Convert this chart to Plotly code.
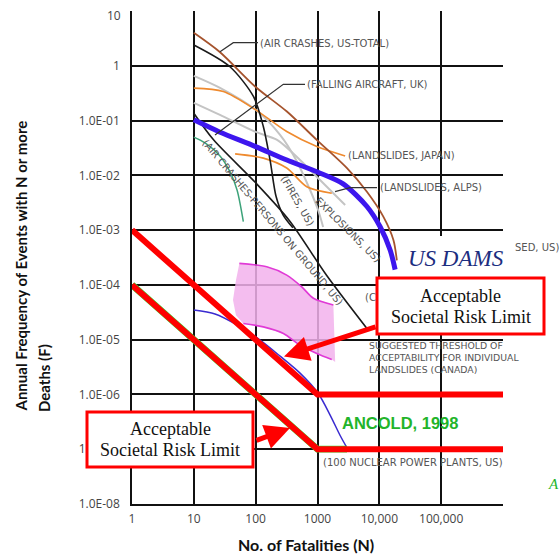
import plotly.graph_objects as go

# ---------------- data (N = fatalities, F = annual frequency) ----------------
air_total_N = [10, 26, 100, 320, 980, 3000, 6300, 11600, 16900, 19200]
air_total_F = [4.0, 1.8, 0.41, 0.146, 0.044, 0.0135, 0.005, 0.00176, 0.00066, 0.00028]

fires_N = [10, 38, 92, 133, 171, 214, 277, 400]
fires_F = [2.4, 0.97, 0.275, 0.078, 0.019, 0.0041, 0.0019, 0.0011]

ground_N = [10, 21, 100, 350, 1400, 6300]
ground_F = [0.136, 0.044, 0.0073, 0.0015, 0.00015, 1.6e-5]

dams_N = [10, 26, 100, 320, 1000, 2600, 6300, 10300, 15000, 18000]
dams_F = [0.103, 0.062, 0.0335, 0.019, 0.0115, 0.007, 0.0027, 0.00115, 0.00043, 0.00019]

japan_N = [10, 30, 100, 318, 975, 2800]
japan_F = [0.391, 0.339, 0.157, 0.063, 0.0335, 0.0226]

alps_N = [46.5, 133, 318, 671, 1700]
alps_F = [0.0246, 0.0206, 0.0136, 0.0062, 0.0047]

gray1_N = [10, 26.5, 100, 248, 451, 759, 1023, 1233]
gray1_F = [0.656, 0.396, 0.157, 0.0548, 0.0191, 0.0054, 0.00233, 0.00114]

gray2_N = [10, 26.5, 100, 222, 522, 1100, 2800]
gray2_F = [0.211, 0.127, 0.062, 0.0444, 0.0191, 0.0082, 0.00288]

teal_N = [10, 15.2, 26.5, 38.5, 50, 63.2]
teal_F = [0.0498, 0.039, 0.0226, 0.01153, 0.0054, 0.00143]

canada_N = [10, 22, 50, 118, 248, 522, 1023, 1600, 2323, 3013]
canada_F = [3.47e-5, 2.95e-5, 1.86e-5, 9.8e-6, 5.0e-6, 2.45e-6, 1.05e-6, 4.2e-7, 1.78e-7, 1.05e-7]

mag_up_N = [54.5, 151, 318, 557, 859, 1807]
mag_up_F = [2.47e-4, 2.14e-4, 1.51e-4, 9.2e-5, 5.7e-5, 4.3e-5]
mag_lo_N = [63.2, 133, 281, 522, 975, 1700]
mag_lo_F = [1.98e-5, 1.71e-5, 1.30e-5, 7.9e-6, 5.6e-6, 4.35e-6]

pink_N = [54.5, 151, 318, 557, 859, 1807, 1930, 1700, 975, 522, 281, 133, 63, 48, 43, 48, 54.5]
pink_F = [2.47e-4, 2.14e-4, 1.51e-4, 9.2e-5, 5.7e-5, 4.3e-5, 3.9e-6, 4.35e-6, 5.6e-6,
          7.9e-6, 1.3e-5, 1.71e-5, 1.98e-5, 2.8e-5, 5.3e-5, 1.22e-4, 2.47e-4]

ancold_N = [1, 1000, 3000]
ancold_F = [1e-4, 1e-7, 1e-7]

limit_hi_N = [1, 1000, 1.12e6]
limit_hi_F = [1e-3, 1e-6, 1e-6]
limit_lo_N = [1, 1000, 1.12e6]
limit_lo_F = [1e-4, 1e-7, 1e-7]

x_tickvals = [1, 10, 100, 1000, 10000, 100000, 1000000]
x_ticktext = ["1", "10", "100", "1000", "10,000", "100,000", ""]
y_tickvals = [1e-8, 1e-7, 1e-6, 1e-5, 1e-4, 1e-3, 1e-2, 1e-1, 1]
y_ticktext = ["1.0E-08", "1.0E-07", "1.0E-06", "1.0E-05", "1.0E-04", "1.0E-03",
              "1.0E-02", "1.0E-01", "1"]

# ---------------- layout geometry ----------------
W, H = 560, 554
ML, MR, MT, MB = 132, 57, 11, 50
PL, PR, PT, PB = ML, W - MR, MT, H - MB


def px(x):
    return (x - PL) / (PR - PL)


def py(y):
    return (PB - y) / (PB - PT)


fig = go.Figure()


def line(xs, ys, color, width, shape="spline", **kw):
    fig.add_trace(go.Scatter(x=xs, y=ys, mode="lines",
                             line=dict(color=color, width=width, shape=shape, smoothing=0.8),
                             hoverinfo="skip", showlegend=False, **kw))


# pink zone
fig.add_trace(go.Scatter(x=pink_N, y=pink_F, mode="lines", fill="toself",
                         fillcolor="rgba(242,178,236,0.85)",
                         line=dict(width=0),
                         hoverinfo="skip", showlegend=False))
line(mag_up_N, mag_up_F, "#e03ad6", 1.6)
line(mag_lo_N, mag_lo_F, "#e03ad6", 1.6)

line(gray1_N, gray1_F, "#c4c4c4", 2)
line(gray2_N, gray2_F, "#c4c4c4", 2)
line(teal_N, teal_F, "#3da37a", 1.5)
line(japan_N, japan_F, "#ef8a2e", 1.6)
line(alps_N, alps_F, "#ef8a2e", 1.6)
line(air_total_N, air_total_F, "#a5532d", 1.8)
line(fires_N, fires_F, "#1a1a1a", 1.6)
line(ground_N, ground_F, "#1a1a1a", 1.6)
line(dams_N, dams_F, "#3d16ee", 5)
line(canada_N, canada_F, "#3a2bd0", 1.5)

# ANCOLD & limit lines
line(ancold_N, ancold_F, "#33dd33", 6.8, shape="linear", cliponaxis=False)
line(limit_hi_N, limit_hi_F, "#ff0000", 6, shape="linear", cliponaxis=False)
line(limit_lo_N, limit_lo_F, "#ff0000", 6, shape="linear", cliponaxis=False)

shapes = []
# leader lines
for pts in [[(220, 51.7), (233.3, 42.7), (258, 42.7)],
            [(215, 135), (283.3, 84.3), (305, 84.3)],
            [(335, 191.7), (350, 187.7), (377, 187.7)]]:
    path = "M " + " L ".join(f"{px(a):.4f},{py(b):.4f}" for a, b in pts)
    shapes.append(dict(type="path", path=path, xref="paper", yref="paper",
                       line=dict(color="#333333", width=1.2), layer="above"))
# white patch behind US DAMS
shapes.append(dict(type="rect", xref="paper", yref="paper", x0=px(398), x1=px(512),
                   y0=py(277), y1=py(236), fillcolor="white", line=dict(width=0), layer="above"))
# boxes
shapes.append(dict(type="rect", xref="paper", yref="paper", x0=px(377), x1=px(544),
                   y0=py(334), y1=py(278), fillcolor="white",
                   line=dict(color="#ff0000", width=3), layer="above"))
shapes.append(dict(type="rect", xref="paper", yref="paper", x0=px(87), x1=px(253),
                   y0=py(467), y1=py(412), fillcolor="white",
                   line=dict(color="#ff0000", width=3), layer="above"))

ann = []
LBL = dict(family="DejaVu Sans", size=10, color="#555555")


def label(text, x, y, font=LBL, xanchor="left", yanchor="middle", angle=0, **kw):
    ann.append(dict(text=text, x=px(x), y=py(y), xref="paper", yref="paper",
                    xanchor=xanchor, yanchor=yanchor, showarrow=False, font=font,
                    textangle=angle, **kw))


label("(AIR CRASHES, US-TOTAL)", 258, 43)
label("(FALLING AIRCRAFT, UK)", 305, 84.5)
label("(LANDSLIDES, JAPAN)", 346, 156)
label("(LANDSLIDES, ALPS)", 378, 187)
label("SED, US)", 513, 247)
label("(C", 363, 297)
label("SUGGESTED THRESHOLD OF<br>ACCEPTABILITY FOR INDIVIDUAL<br>LANDSLIDES (CANADA)",
      367, 338, yanchor="top", align="left",
      font=dict(family="DejaVu Sans", size=9.3, color="#555555"))
label("(100 NUCLEAR POWER PLANTS, US)", 321, 462)
label("(AIR CRASHES-PERSONS ON GROUND, US)", 273, 222, xanchor="center", angle=50)
label("(FIRES, US)", 297, 201, xanchor="center", angle=60)
label("EXPLOSIONS, US)", 348, 229, xanchor="center", angle=45)
label("ANCOLD, 1998", 340, 423,
      font=dict(family="Liberation Sans, Arial", size=16.5, color="#22b42a", weight="bold"))
label("US DAMS", 456, 258, xanchor="center",
      font=dict(family="Liberation Serif, Times New Roman", size=23, color="#1c2d80",
                style="italic"))
label("A", 561, 484, xanchor="right",
      font=dict(family="Liberation Serif", size=15, color="#22b42a", style="italic"))

BOX = dict(family="Liberation Serif, Times New Roman", size=18, color="#111111")
label("Acceptable", 460.5, 296, font=BOX, xanchor="center")
label("Societal Risk Limit", 460.5, 317, font=BOX, xanchor="center")
label("Acceptable", 170, 429, font=BOX, xanchor="center")
label("Societal Risk Limit", 170, 450, font=BOX, xanchor="center")

# arrows
ann.append(dict(x=px(284), y=py(356.5), xref="paper", yref="paper", ax=93, ay=-30,
                text="", showarrow=True, arrowcolor="#ff0000", arrowwidth=5,
                arrowhead=2, arrowsize=1, standoff=0))
ann.append(dict(x=px(290), y=py(428), xref="paper", yref="paper", ax=-35, ay=13,
                text="", showarrow=True, arrowcolor="#ff0000", arrowwidth=5,
                arrowhead=2, arrowsize=1, standoff=0))

# axis titles and "10" label
TF = dict(family="Lato, Open Sans", size=15, color="#111111", weight="bold")
label("Annual Frequency of Events with N or more", 20, 414, font=TF,
      xanchor="center", yanchor="bottom", angle=-90)
label("Deaths (F)", 44, 414, font=TF, xanchor="center", yanchor="bottom", angle=-90)
label("No. of Fatalities (N)", 306, 544, font=dict(TF, size=16), xanchor="center")
TK = dict(family="Open Sans", size=12, color="#444444")
label("10", 123, 15, font=TK, xanchor="right")

fig.update_layout(
    width=W, height=H, margin=dict(l=ML, r=MR, t=MT, b=MB),
    paper_bgcolor="white", plot_bgcolor="white", showlegend=False,
    shapes=shapes, annotations=ann,
    xaxis=dict(type="log", range=[0, 6], tickvals=x_tickvals, ticktext=x_ticktext,
               showgrid=True, gridcolor="#111111", gridwidth=1.5, showline=True,
               linecolor="#111111", linewidth=1.5, zeroline=False, ticks="",
               ticklabelstandoff=3, tickfont=TK),
    yaxis=dict(type="log", range=[-8, 1], tickvals=y_tickvals, ticktext=y_ticktext,
               showgrid=True, gridcolor="#111111", gridwidth=1.5, showline=True,
               linecolor="#111111", linewidth=1.5, zeroline=False, ticks="",
               ticklabelstandoff=8, tickfont=TK),
)

fig.write_html("out.html", config={"displayModeBar": False},
               post_script="document.body.style.margin='0';document.body.style.overflow='hidden';")
